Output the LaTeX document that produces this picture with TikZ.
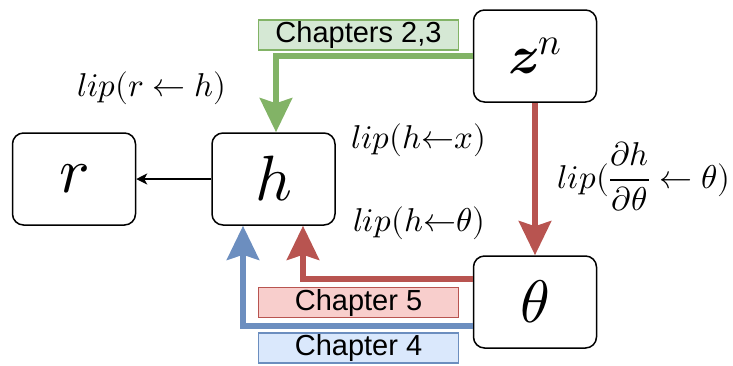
\documentclass[tikz,border=0pt]{standalone}
\usepackage{amsmath}
\usepackage{unicode-math}
\setmathfont{Latin Modern Math}
\newfontfamily\chapfont{Liberation Sans}
\usetikzlibrary{arrows.meta}
\definecolor{gline}{HTML}{82B366}
\definecolor{gfill}{HTML}{D5E8D4}
\definecolor{rline}{HTML}{B85450}
\definecolor{rfill}{HTML}{F8CECC}
\definecolor{bline}{HTML}{6C8EBF}
\definecolor{bfill}{HTML}{DAE8FC}
\tikzset{
  varbox/.style={draw=black, line width=1.5pt, rounded corners=11pt, fill=white,
    minimum width=123pt, minimum height=92pt, inner sep=0pt, font=\fontsize{64}{68}\selectfont},
  chapbox/.style={line width=1.5pt, minimum width=200pt, minimum height=30pt, inner sep=0pt,
    font=\chapfont\fontsize{29}{32}\selectfont},
  liplabel/.style={inner sep=0pt, font=\fontsize{33}{38}\selectfont},
  bigarrow/.style={line width=6.5pt, -{Stealth[length=34pt, width=32pt, inset=5pt]}},
  smallarrow/.style={line width=1.2pt, -{Stealth[length=11pt, width=11pt, inset=3pt]}},
}
\begin{document}
\begin{tikzpicture}[x=1pt, y=-1pt]
\useasboundingbox (0,0) rectangle (733,365);
% boxes
\node[varbox] (r) at (74,179) {$r$};
\node[varbox] (h) at (273.5,179) {$h$};
\node[varbox, font=\fontsize{54}{58}\selectfont] (z) at (535,56) {$\symbfit{z}^{n}$};
\node[varbox, font=\fontsize{60}{64}\selectfont] (t) at (535,302) {$\theta$};
% chapter labels
\node[chapbox, draw=gline, fill=gfill] (c23) at (358.5,35) {Chapters 2,3};
\node[chapbox, draw=rline, fill=rfill] (c5) at (358.5,302.5) {Chapter 5};
\node[chapbox, draw=bline, fill=bfill] (c4) at (358.5,348) {Chapter 4};
% connectors
\draw[smallarrow] (h.west) -- (r.east);
\draw[bigarrow, draw=gline] (z.west) -| ([xshift=2.5pt]h.north);
\draw[bigarrow, draw=rline] (z.south) -- (t.north);
\draw[bigarrow, draw=rline] ([yshift=23pt]t.west) -| ([xshift=29.5pt]h.south);
\draw[bigarrow, draw=bline] ([yshift=-24pt]t.west) -| ([xshift=-30.5pt]h.south);
% lip labels
\node[liplabel] (l1) at (152,88) {$lip(r\leftarrow h)$};
\node[liplabel] (l2) at (419,140) {$lip(h\mathord{\leftarrow} x)$};
\node[liplabel] (l3) at (419,223) {$lip(h\mathord{\leftarrow}\theta)$};
\node[liplabel] (l4) at (644,177) {$lip(\dfrac{\partial h}{\partial\theta}\leftarrow\theta)$};
\end{tikzpicture}
\end{document}
